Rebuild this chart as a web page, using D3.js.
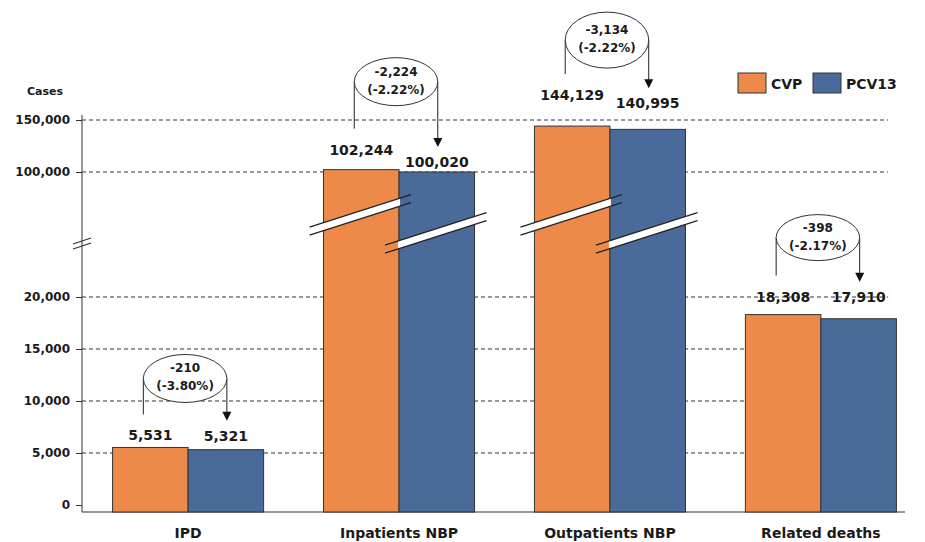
<!DOCTYPE html>
<html>
<head>
<meta charset="utf-8">
<script src="https://cdn.jsdelivr.net/npm/d3@7"></script>
<style>
  body { margin: 0; background: #fff; }
  svg { display: block; }
  text { font-family: "DejaVu Sans", Verdana, sans-serif; font-weight: bold; fill: #1a1a1a; }
</style>
</head>
<body>
<svg id="chart" width="925" height="542"></svg>
<script>
// values
var categories = ["IPD", "Inpatients NBP", "Outpatients NBP", "Related deaths"];
var seriesNames = ["CVP", "PCV13"];
var cvpValues = [5531, 102244, 144129, 18308];
var pcvValues = [5321, 100020, 140995, 17910];
var pctLabels = ["(-3.80%)", "(-2.22%)", "(-2.22%)", "(-2.17%)"];
var lowTicks = [0, 5000, 10000, 15000, 20000];
var highTicks = [100000, 150000];

// layout tweaks (label lifts above bar tops, note heights above labels)
var labelLift = [[7, 9], [15, 5], [26, 21], [13, 17]];
var noteLift = [62, 73, 60, 64];
var noteRy = [24, 24, 28, 23];

var colors = {CVP: "#ED8A4A", PCV13: "#4A6A9A"};
// plain hyphen for negatives, like the original
var fmt = d3.formatLocale({decimal: ".", thousands: ",", grouping: [3], currency: ["", ""], minus: "-"}).format(",");

var svg = d3.select("#chart");
var axisX = 82, baseY = 512, gridEnd = 888;

var x0 = d3.scaleBand().domain(categories).range([82, 927])
    .paddingInner(0.284).paddingOuter(0.145);
var x1 = d3.scaleBand().domain(seriesNames).range([0, x0.bandwidth()]);

// broken axis: two linear pieces
var yLow = d3.scaleLinear().domain([0, 20000]).range([505, 297]);
var yHigh = d3.scaleLinear().domain([100000, 150000]).range([172, 120]);
var yVal = function(v) { return v > 20000 ? yHigh(v) : yLow(v); };
var gapMid = (yLow(20000) + yHigh(100000)) / 2;

var rows = categories.map(function(c, i) {
    return {cat: c, i: i, vals: [
        {s: "CVP", v: cvpValues[i], j: 0},
        {s: "PCV13", v: pcvValues[i], j: 1}
    ]};
});

// grid lines
var gridVals = lowTicks.filter(function(t){ return t > 0; }).map(yLow)
    .concat(highTicks.map(yHigh));
svg.append("g").selectAll("line").data(gridVals).enter().append("line")
    .attr("x1", axisX).attr("x2", gridEnd)
    .attr("y1", function(d){ return d; }).attr("y2", function(d){ return d; })
    .attr("stroke", "#333").attr("stroke-width", 1).attr("stroke-dasharray", "4,3");

// axes
function styleAxis(g) {
    g.select(".domain").remove();
    g.selectAll(".tick line").attr("stroke", "#333");
    g.selectAll(".tick text").attr("font-size", 12).attr("fill", "#1a1a1a")
        .attr("font-family", "DejaVu Sans").attr("font-weight", "bold");
}
svg.append("g").attr("transform", "translate(" + axisX + ",0)")
    .call(d3.axisLeft(yLow).tickValues(lowTicks).tickSize(6).tickPadding(6).tickFormat(fmt))
    .call(styleAxis);
svg.append("g").attr("transform", "translate(" + axisX + ",0)")
    .call(d3.axisLeft(yHigh).tickValues(highTicks).tickSize(6).tickPadding(6).tickFormat(fmt))
    .call(styleAxis);

svg.append("line").attr("x1", axisX).attr("x2", axisX)
    .attr("y1", yHigh(150000) - 5).attr("y2", baseY).attr("stroke", "#333");
svg.append("line").attr("x1", axisX).attr("x2", 905)
    .attr("y1", baseY).attr("y2", baseY).attr("stroke", "#333");

// axis break mark
[-2.5, 2.5].forEach(function(o) {
    var yb = gapMid + 9 + o;
    svg.append("line").attr("x1", axisX - 9).attr("y1", yb + 3)
        .attr("x2", axisX + 9).attr("y2", yb - 3).attr("stroke", "#333").attr("stroke-width", 1.2);
});

svg.append("text").attr("x", 27).attr("y", 95).attr("font-size", 11).text("Cases");

// bars
var groups = svg.append("g").selectAll("g").data(rows).enter().append("g")
    .attr("transform", function(d){ return "translate(" + x0(d.cat) + ",0)"; });

groups.selectAll("rect").data(function(d){ return d.vals; }).enter().append("rect")
    .attr("x", function(d){ return x1(d.s); })
    .attr("y", function(d){ return yVal(d.v); })
    .attr("width", x1.bandwidth())
    .attr("height", function(d){ return baseY - yVal(d.v); })
    .attr("fill", function(d){ return colors[d.s]; })
    .attr("stroke", "#333").attr("stroke-width", 1);

// break bands across bars in the upper piece
var slope = 0.32, half = 4;
groups.each(function(row) {
    var g = d3.select(this);
    row.vals.forEach(function(d) {
        if (d.v <= 20000) return;
        var l = x1(d.s), r = l + x1.bandwidth(), cx = (l + r) / 2;
        var yc = gapMid + (d.j === 0 ? -20 : -2);
        var yAt = function(xx){ return yc - slope * (xx - cx); };
        var wl = l - 1, wr = r + 1;
        g.append("path")
            .attr("d", "M" + wl + "," + (yAt(wl) - half) + " L" + wr + "," + (yAt(wr) - half) +
                " L" + wr + "," + (yAt(wr) + half) + " L" + wl + "," + (yAt(wl) + half) + " Z")
            .attr("fill", "#fff");
        var xs = l - 14, xe = r + 12;
        [-half, half].forEach(function(o) {
            g.append("line").attr("x1", xs).attr("y1", yAt(xs) + o)
                .attr("x2", xe).attr("y2", yAt(xe) + o)
                .attr("stroke", "#222").attr("stroke-width", 1.2);
        });
    });
});

// value labels
groups.each(function(row) {
    var g = d3.select(this);
    row.vals.forEach(function(d) {
        g.append("text")
            .attr("x", x1(d.s) + x1.bandwidth() / 2)
            .attr("y", yVal(d.v) - labelLift[row.i][d.j])
            .attr("text-anchor", "middle").attr("font-size", 14)
            .text(fmt(d.v));
    });
});

// difference notes
groups.each(function(row) {
    var g = d3.select(this);
    var c0 = x1("CVP") + x1.bandwidth() / 2, c1 = x1("PCV13") + x1.bandwidth() / 2;
    var lx = c0 - 7, rx = c1 + 1;
    var lab0 = yVal(row.vals[0].v) - labelLift[row.i][0];
    var lab1 = yVal(row.vals[1].v) - labelLift[row.i][1];
    var cy = lab0 - noteLift[row.i];
    var tipY = lab1 - 20;

    g.append("line").attr("x1", lx).attr("x2", lx).attr("y1", cy).attr("y2", lab0 - 26)
        .attr("stroke", "#222");
    g.append("line").attr("x1", rx).attr("x2", rx).attr("y1", cy).attr("y2", tipY - 8)
        .attr("stroke", "#222");
    g.append("path")
        .attr("d", "M" + (rx - 4.5) + "," + (tipY - 9) + " L" + (rx + 4.5) + "," + (tipY - 9) +
            " L" + rx + "," + tipY + " Z")
        .attr("fill", "#111");
    g.append("ellipse").attr("cx", (lx + rx) / 2).attr("cy", cy)
        .attr("rx", (rx - lx) / 2).attr("ry", noteRy[row.i])
        .attr("fill", "#fff").attr("stroke", "#333").attr("stroke-width", 1);
    g.append("text").attr("x", (lx + rx) / 2).attr("y", cy - 6)
        .attr("text-anchor", "middle").attr("font-size", 12)
        .text(fmt(row.vals[1].v - row.vals[0].v));
    g.append("text").attr("x", (lx + rx) / 2).attr("y", cy + 12)
        .attr("text-anchor", "middle").attr("font-size", 12)
        .text(pctLabels[row.i]);
});

// category labels
svg.append("g").selectAll("text").data(categories).enter().append("text")
    .attr("x", function(d){ return x0(d) + x0.bandwidth() / 2; })
    .attr("y", 538).attr("text-anchor", "middle").attr("font-size", 14)
    .text(function(d){ return d; });

// legend
var legend = svg.append("g").attr("transform", "translate(738,73)");
var lg = legend.selectAll("g").data(seriesNames).enter().append("g")
    .attr("transform", function(d, i){ return "translate(" + (i * 75) + ",0)"; });
lg.append("rect").attr("width", 28).attr("height", 20)
    .attr("fill", function(d){ return colors[d]; }).attr("stroke", "#333");
lg.append("text").attr("x", 33).attr("y", 16).attr("font-size", 14)
    .text(function(d){ return d; });
</script>
</body>
</html>
